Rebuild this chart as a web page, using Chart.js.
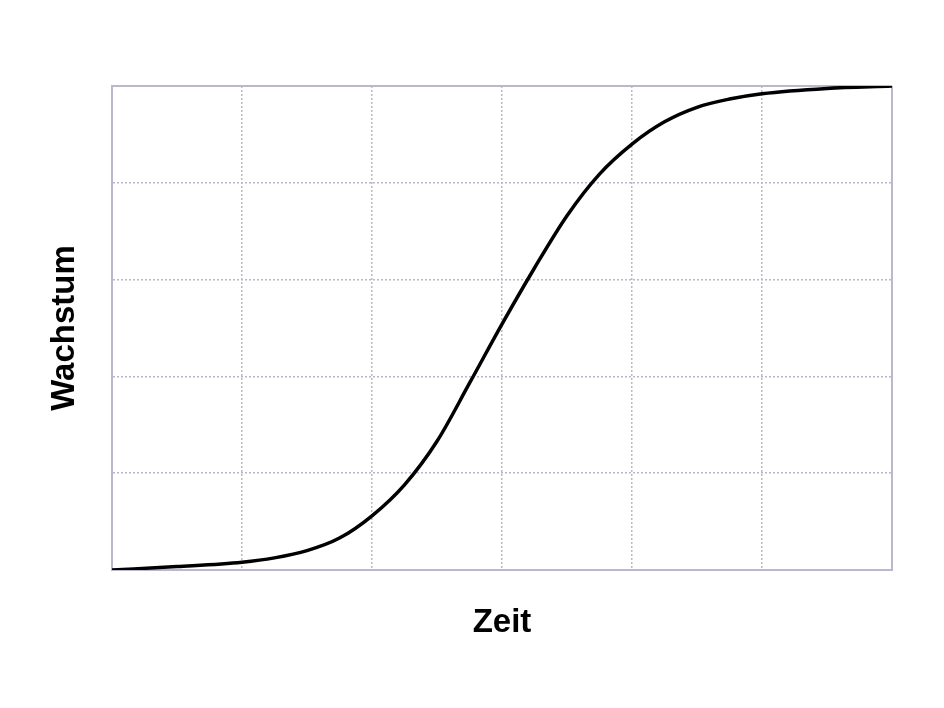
<!DOCTYPE html>
<html>
<head>
<meta charset="utf-8">
<script src="https://cdn.jsdelivr.net/npm/chart.js@4/dist/chart.umd.min.js"></script>
<style>
  html, body { margin: 0; padding: 0; background: #fff; }
  #wrap { width: 944px; height: 708px; }
</style>
</head>
<body>
<div id="wrap"><canvas id="chart" width="944" height="708"></canvas></div>
<script>
// values (x = grid columns, y = grid rows)
const timeValues = [0, 0.5, 1, 1.25, 1.5, 1.75, 2, 2.25, 2.5, 2.75, 3, 3.25, 3.5, 3.75, 4, 4.25, 4.5, 4.75, 5, 5.5, 6];
const growthValues = [0, 0.035, 0.08, 0.125, 0.2, 0.33, 0.56, 0.88, 1.33, 1.93, 2.54, 3.12, 3.66, 4.09, 4.40, 4.63, 4.78, 4.865, 4.92, 4.975, 5.0];
const xLabel = 'Zeit';
const yLabel = 'Wachstum';

const gridColor = '#b9b8cc';
const labelFont = { family: 'Liberation Sans, Arial, sans-serif', size: 33, weight: 'bold' };
const points = timeValues.map((t, i) => ({ x: t, y: growthValues[i] }));

// edge lines solid, inner lines dotted
function dashFor(min, max) {
    return function(ctx) {
        if (!ctx.tick) return [];
        const v = ctx.tick.value;
        return (v === min || v === max) ? [] : [2, 2];
    };
}
function widthFor(min, max) {
    return function(ctx) {
        const v = ctx.tick.value;
        return (v === min || v === max) ? 2 : 1.5;
    };
}

const ctx = document.getElementById('chart').getContext('2d');
new Chart(ctx, {
    type: 'line',
    data: {
        datasets: [{
            data: points,
            borderColor: '#000',
            borderWidth: 3.5,
            pointRadius: 0,
            fill: false,
            cubicInterpolationMode: 'monotone'
        }]
    },
    options: {
        responsive: false,
        animation: false,
        layout: { padding: { top: 86, right: 52, bottom: 0, left: 0 } },
        plugins: { legend: { display: false }, tooltip: { enabled: false } },
        scales: {
            x: {
                type: 'linear',
                min: 0,
                max: 6,
                ticks: { display: false, stepSize: 1 },
                grid: { color: gridColor, lineWidth: widthFor(0, 6), drawTicks: false },
                border: { display: true, color: gridColor, width: 2, dash: dashFor(0, 6) },
                title: {
                    display: true,
                    text: xLabel,
                    color: '#000',
                    font: labelFont,
                    padding: { top: 0, bottom: 65 }
                },
                afterFit: function(scale) { scale.height = 138; }
            },
            y: {
                type: 'linear',
                min: 0,
                max: 5,
                ticks: { display: false, stepSize: 1 },
                grid: { color: gridColor, lineWidth: widthFor(0, 5), drawTicks: false },
                border: { display: true, color: gridColor, width: 2, dash: dashFor(0, 5) },
                title: {
                    display: true,
                    text: yLabel,
                    color: '#000',
                    font: labelFont,
                    padding: { top: 45, bottom: 0 }
                },
                afterFit: function(scale) { scale.width = 112; }
            }
        }
    }
});
</script>
</body>
</html>
